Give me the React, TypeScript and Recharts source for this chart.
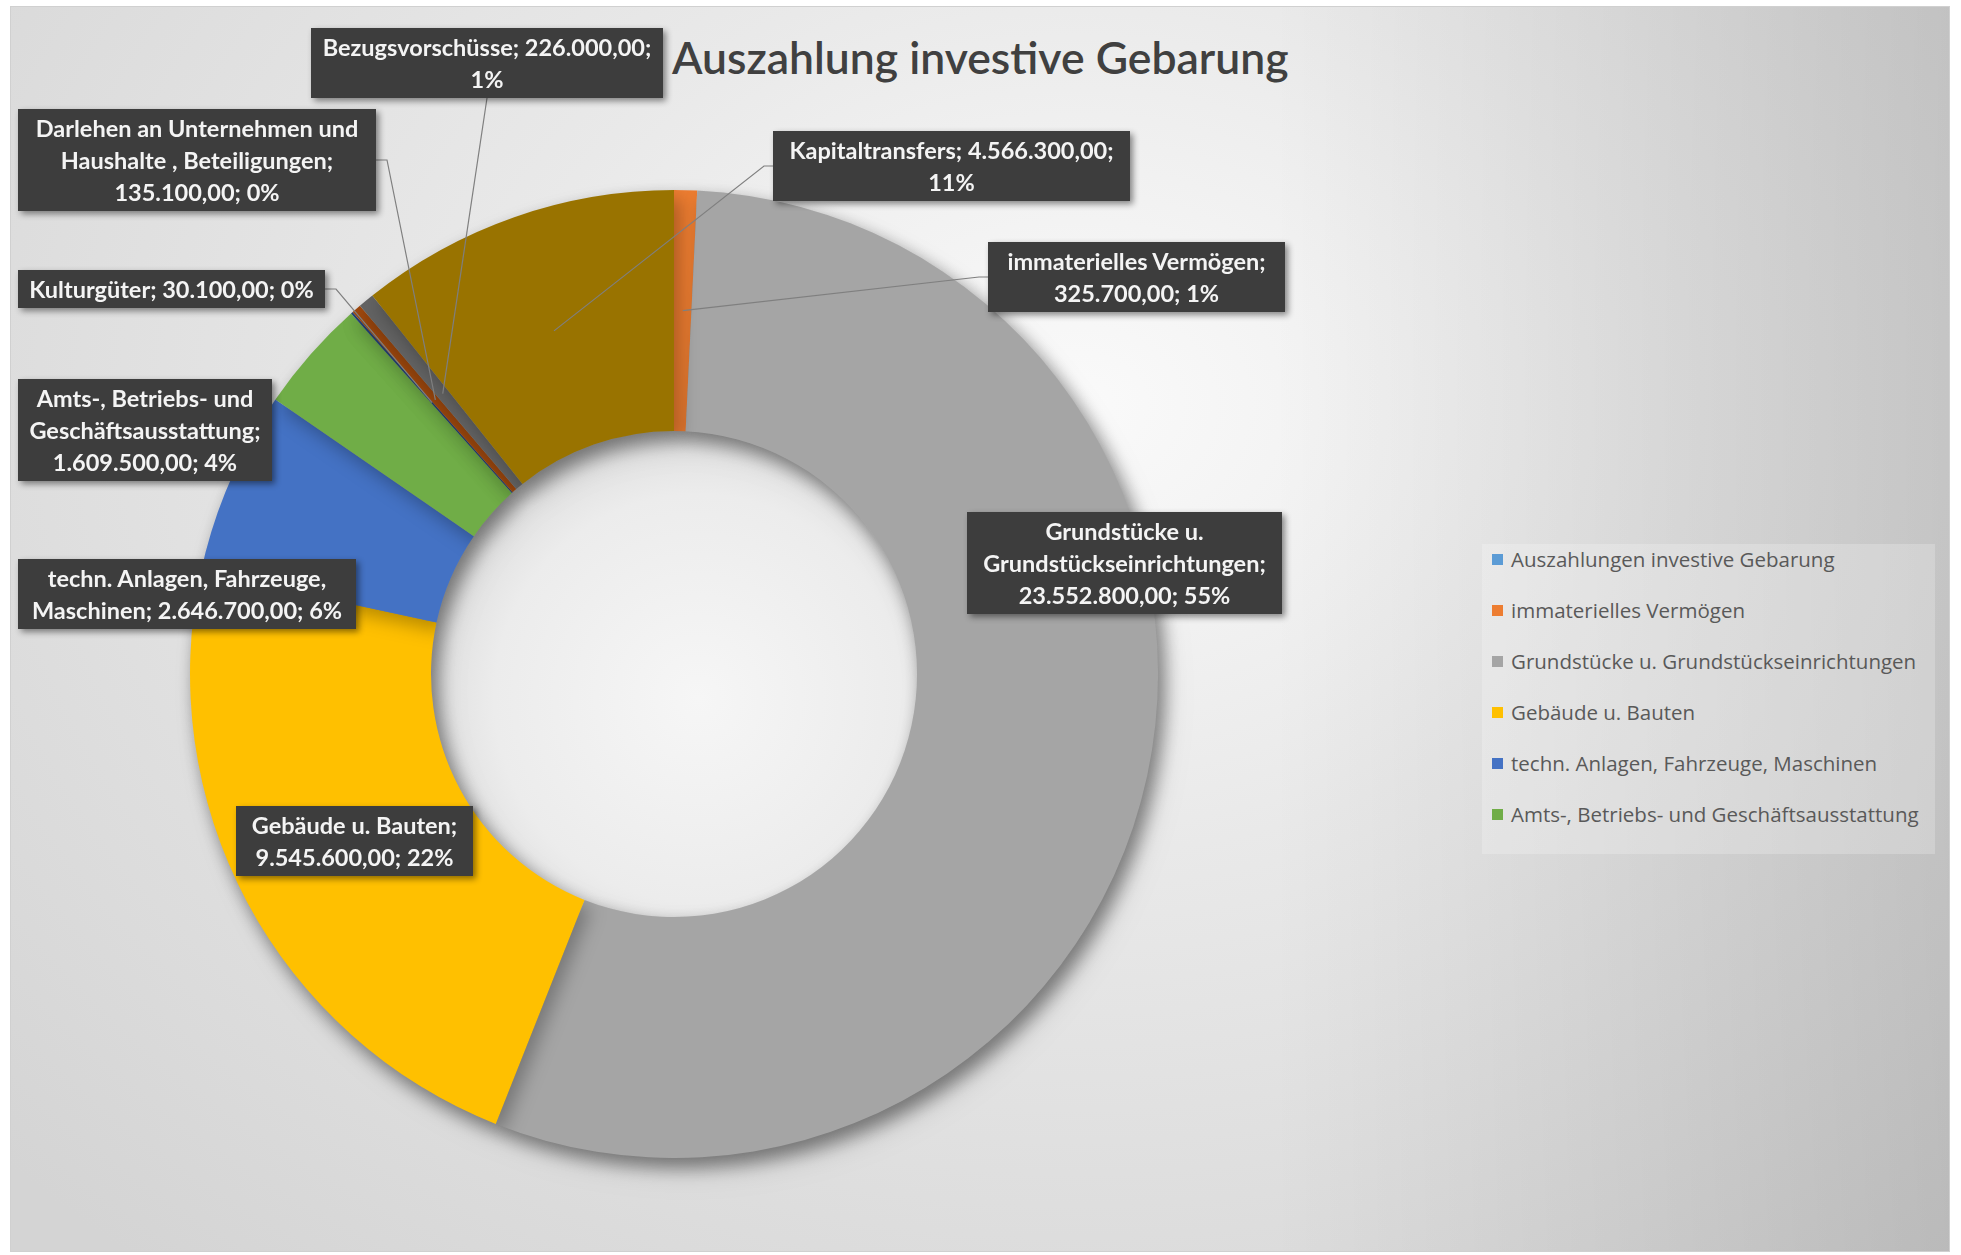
import React from 'react';
import { PieChart, Pie, Cell, Legend } from 'recharts';

const categories = [
  'Auszahlungen investive Gebarung',
  'immaterielles Vermögen',
  'Grundstücke u. Grundstückseinrichtungen',
  'Gebäude u. Bauten',
  'techn. Anlagen, Fahrzeuge, Maschinen',
  'Amts-, Betriebs- und Geschäftsausstattung',
  'Kulturgüter',
  'Darlehen an Unternehmen und Haushalte , Beteiligungen',
  'Bezugsvorschüsse',
  'Kapitaltransfers',
];
const amounts = [0, 325700, 23552800, 9545600, 2646700, 1609500, 30100, 135100, 226000, 4566300];
const colors = ['#5B9BD5', '#ED7D31', '#A5A5A5', '#FFC000', '#4472C4', '#70AD47', '#264478', '#9E480E', '#636363', '#997300'];
const legendCount = 6; // excel only shows the first six entries

const data = categories.map((name, i) => ({ name, value: amounts[i] }));
const total = amounts.reduce((a, b) => a + b, 0);

const CX = 658;
const CY = 662;
const INNER = 243;
const OUTER = 484;
const LINE_H = 32;
const RADIAN = Math.PI / 180;

// label boxes: offset from pie centre, width, words per line, where the leader line leaves the box
type LabelLayout = { dx: number; dy: number; w: number; lines: number[]; attach?: 'left' | 'right' | 'bottom' };
const labelLayout: (LabelLayout | null)[] = [
  null,
  { dx: 314, dy: -432, w: 297, lines: [2, 2], attach: 'left' },
  { dx: 293, dy: -162, w: 315, lines: [2, 1, 2] },
  { dx: -438, dy: 132, w: 237, lines: [3, 2] },
  { dx: -656, dy: -115, w: 338, lines: [3, 3] },
  { dx: -656, dy: -295, w: 254, lines: [3, 1, 2] },
  { dx: -656, dy: -404, w: 307, lines: [3], attach: 'right' },
  { dx: -656, dy: -565, w: 358, lines: [4, 3, 2], attach: 'right' },
  { dx: -363, dy: -646, w: 352, lines: [2, 1], attach: 'bottom' },
  { dx: 99, dy: -543, w: 357, lines: [2, 1], attach: 'left' },
];

const fmtDe = (v: number) => {
  const [int, dec] = v.toFixed(2).split('.');
  return int.replace(/\B(?=(\d{3})+(?!\d))/g, '.') + ',' + dec;
};

const labelLines = (index: number, lay: LabelLayout) => {
  const nameWords = categories[index].split(' ');
  nameWords[nameWords.length - 1] += ';';
  const words = [...nameWords, fmtDe(amounts[index]) + ';', Math.round((amounts[index] / total) * 100) + '%'];
  const out: string[] = [];
  let k = 0;
  lay.lines.forEach((n) => {
    out.push(words.slice(k, k + n).join(' '));
    k += n;
  });
  return out;
};

const renderLabel = (props: any) => {
  const { cx, cy, midAngle, innerRadius, outerRadius, index } = props;
  const lay = labelLayout[index];
  if (!lay) return null;
  const x = cx + lay.dx;
  const y = cy + lay.dy;
  const lines = labelLines(index, lay);
  const h = lines.length * LINE_H + 6;

  let leader = null;
  if (lay.attach) {
    const r = (innerRadius + outerRadius) / 2;
    const px = cx + r * Math.cos(-midAngle * RADIAN);
    const py = cy + r * Math.sin(-midAngle * RADIAN);
    let pts = '';
    if (lay.attach === 'left') pts = `${x},${y + h / 2} ${x - 9},${y + h / 2} ${px},${py}`;
    if (lay.attach === 'right') pts = `${x + lay.w},${y + h / 2} ${x + lay.w + 11},${y + h / 2} ${px},${py}`;
    if (lay.attach === 'bottom') pts = `${x + lay.w / 2},${y + h} ${px},${py}`;
    leader = <polyline points={pts} fill="none" stroke="#7f7f7f" strokeWidth={1.2} />;
  }

  return (
    <g key={`lbl-${index}`}>
      {leader}
      <rect x={x} y={y} width={lay.w} height={h} fill="#3d3d3d" style={{ filter: 'drop-shadow(3px 3px 3px rgba(0,0,0,0.45))' }} />
      {lines.map((t, i) => (
        <text
          key={i}
          x={x + lay.w / 2}
          y={y + 3 + LINE_H * (i + 0.5)}
          textAnchor="middle"
          dominantBaseline="central"
          fill="#f4f4f4"
          fontFamily="Lato, 'Open Sans', sans-serif"
          fontWeight={700}
          fontSize={23.5}
        >
          {t}
        </text>
      ))}
    </g>
  );
};

const renderLegend = () => (
  <div
    style={{
      background: 'rgba(255,255,255,0.22)',
      padding: '0 8px 25px 10px',
      fontFamily: "'Open Sans', sans-serif",
      fontSize: 20.5,
      color: '#595959',
    }}
  >
    {categories.slice(0, legendCount).map((c, i) => (
      <div
        key={c}
        style={{ display: 'flex', alignItems: 'center', height: 30, marginTop: i === 0 ? 0 : 21, whiteSpace: 'nowrap' }}
      >
        <span style={{ display: 'inline-block', width: 11, height: 11, background: colors[i], marginRight: 8 }} />
        {c}
      </div>
    ))}
  </div>
);

export default function App() {
  return (
    <div
      style={{
        position: 'absolute',
        left: 10,
        top: 6,
        width: 1940,
        height: 1246,
        border: '1px solid #d0d0d0',
        boxSizing: 'border-box',
        background:
          'linear-gradient(to right, rgba(0,0,0,0) 65%, rgba(0,0,0,0.13) 100%), radial-gradient(ellipse 75% 90% at 55% 32%, #fafafa 0%, #e9e9e9 40%, #d4d4d4 100%)',
      }}
    >
      <style>{`.donut { filter: drop-shadow(6px 9px 9px rgba(0,0,0,0.28)); }`}</style>
      <div
        style={{
          position: 'absolute',
          left: 661,
          top: 23,
          fontFamily: "Lato, 'Open Sans', sans-serif",
          fontWeight: 600,
          fontSize: 44.5,
          color: '#404040',
          whiteSpace: 'nowrap',
          lineHeight: 1.2,
        }}
      >
        Auszahlung investive Gebarung
      </div>
      <PieChart width={1940} height={1246} style={{ position: 'absolute', left: 0, top: 0 }}>
        <defs>
          <radialGradient id="holeGrad" cx="55%" cy="55%" r="60%">
            <stop offset="0%" stopColor="#f6f6f6" />
            <stop offset="70%" stopColor="#ececec" />
            <stop offset="100%" stopColor="#dadada" />
          </radialGradient>
        </defs>
        <Pie
          data={[{ name: 'hole', value: 1 }]}
          dataKey="value"
          cx={CX}
          cy={CY}
          innerRadius={0}
          outerRadius={INNER}
          fill="url(#holeGrad)"
          stroke="none"
          legendType="none"
          isAnimationActive={false}
        />
        <Pie
          className="donut"
          data={data}
          dataKey="value"
          nameKey="name"
          cx={CX}
          cy={CY}
          innerRadius={INNER}
          outerRadius={OUTER}
          startAngle={90}
          endAngle={-270}
          stroke="none"
          label={renderLabel}
          labelLine={false}
          isAnimationActive={false}
        >
          {data.map((d, i) => (
            <Cell key={d.name} fill={colors[i]} />
          ))}
        </Pie>
        <Legend
          content={renderLegend}
          wrapperStyle={{ position: 'absolute', left: 1471, top: 537, width: 453, bottom: 'auto', right: 'auto' }}
        />
      </PieChart>
    </div>
  );
}
